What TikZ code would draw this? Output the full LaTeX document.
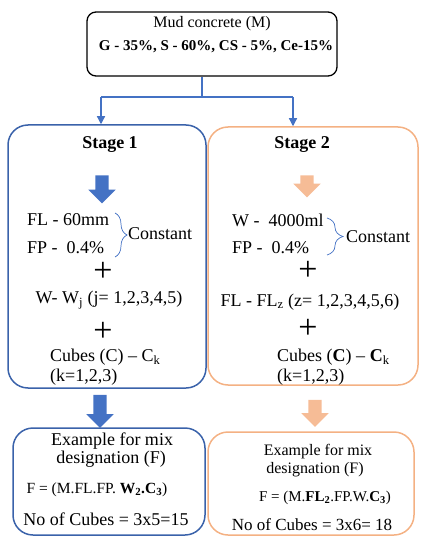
\documentclass[tikz,border=0pt]{standalone}
\usepackage{fontspec}
\setmainfont{Liberation Serif}
\usetikzlibrary{arrows.meta,shapes.arrows,decorations.pathreplacing}
\definecolor{stageblue}{HTML}{3A62AA}
\definecolor{arrowblue}{HTML}{4472C4}
\definecolor{stageorange}{HTML}{F4B183}
\definecolor{arroworange}{HTML}{F6BC96}
\newcommand{\fsz}[1]{\fontsize{#1}{#1}\selectfont}
\begin{document}
\begin{tikzpicture}[x=1pt, y=-1pt,
  every node/.style={font=\fsz{18}, inner sep=0pt},
  mudbox/.style={draw=black, line width=1.3pt, rounded corners=9pt, minimum width=250pt, minimum height=64pt},
  stagebox/.style={draw=#1, line width=1.5pt, rounded corners=20pt},
  flow/.style={draw=arrowblue, line width=1.2pt},
  fatarrow/.style={single arrow, fill=#1, minimum width=27pt, inner xsep=0pt, inner ysep=6.5pt, single arrow head extend=7pt, rotate=-90},
  constbrace/.style={draw=arrowblue, line width=0.7pt, decorate, decoration={brace, amplitude=#1}},
  plus/.style={font=\fsz{34}, text height=16pt, text depth=0pt}]
  \useasboundingbox (0,0) rectangle (420,537);
  % mix of the mud concrete
  \node[mudbox] (mud) at (212,44) {};
  \node[font=\fsz{16}] (mudname) at (212,24) {Mud concrete (M)};
  \node[font=\fsz{15}\bfseries] (mudmix) at (216,47) {G - 35\%, S - 60\%, CS - 5\%, Ce-15\%};
  % the two stages
  \node[stagebox=stageblue, minimum width=198pt, minimum height=263pt] (stage1) at (107,256.5) {};
  \node[stagebox=stageorange, minimum width=210pt, minimum height=258pt] (stage2) at (313,256) {};
  \coordinate (fork) at (202,97);
  \coordinate (left) at (101,97);
  \coordinate (right) at (293,97);
  \draw[flow] (mud.south -| fork) -- (fork);
  \draw[flow] (left) -- (right);
  \draw[flow, -{Triangle[length=8pt, width=8pt]}] (left) -- (left |- stage1.north);
  \draw[flow, -{Triangle[length=8pt, width=8pt]}] (right) -- (right |- stage2.north);
  % stage 1
  \node (title1) at (110,145) {\bfseries Stage 1};
  \node[fatarrow=arrowblue, minimum height=28pt] (down1) at (102,186) {};
  \node[anchor=west] (fl1) at (27,220) {FL - 60mm};
  \node[anchor=west] (fp1) at (27,248) {FP -\ \ 0.4\%};
  \draw[constbrace=12pt] (115,213) -- (115,257) coordinate (brace1);
  \node[anchor=west] (const1) at (128,234) {Constant};
  \node[plus] (plus1a) at (103,273) {+};
  \node (w1) at (109,300) {W- W\textsubscript{j} (j= 1,2,3,4,5)};
  \node[plus] (plus1b) at (103,333) {+};
  \node[anchor=west] (cube1) at (50,357) {Cubes (C) -- C\textsubscript{k}};
  \node[anchor=west] (k1) at (50,377) {(k=1,2,3)};
  % stage 2
  \node (title2) at (302,145) {\bfseries Stage 2};
  \node[fatarrow=arroworange, minimum height=22pt] (down2) at (307,183) {};
  \node[anchor=west] (w2) at (232,220) {W -\ \ 4000ml};
  \node[anchor=west] (fp2) at (232,248) {FP -\ \ 0.4\%};
  \draw[constbrace=16pt] (327,218) -- (327,255) coordinate (brace2);
  \node[anchor=west] (const2) at (346,237) {Constant};
  \node[plus] (plus2a) at (308,272) {+};
  \node (fl2) at (310,302) {FL - FL\textsubscript{z} (z= 1,2,3,4,5,6)};
  \node[plus] (plus2b) at (308,330) {+};
  \node[anchor=west] (cube2) at (277,357) {Cubes (\textbf{C}) -- \textbf{C}\textsubscript{k}};
  \node[anchor=west] (k2) at (277,377) {(k=1,2,3)};
  % mix designation examples
  \node[fatarrow=arrowblue, minimum height=33pt] (down1b) at (100,408) {};
  \node[stagebox=stageblue, minimum width=192pt, minimum height=107pt] (ex1) at (109,481.5) {};
  \node (ex1a) at (112,441) {Example for mix};
  \node (ex1b) at (111,459) {designation (F)};
  \node[font=\fsz{15.5}] (ex1f) at (97,490) {F = (M.FL.FP. \textbf{W\textsubscript{2}.C\textsubscript{3}})};
  \node (ex1n) at (106,519) {No of Cubes = 3x5=15};
  \node[fatarrow=arroworange, minimum height=27pt] (down2b) at (315,410) {};
  \node[stagebox=stageorange, minimum width=206pt, minimum height=103pt] (ex2) at (311,483.5) {};
  \node[font=\fsz{16}] (ex2a) at (318,452) {Example for mix};
  \node[font=\fsz{16}] (ex2b) at (315,470) {designation (F)};
  \node[font=\fsz{15}] (ex2f) at (325,498) {F = (M.\textbf{FL\textsubscript{2}}.FP.W.\textbf{C\textsubscript{3}})};
  \node[font=\fsz{17}] (ex2n) at (312,525) {No of Cubes = 3x6= 18};
\end{tikzpicture}
\end{document}
